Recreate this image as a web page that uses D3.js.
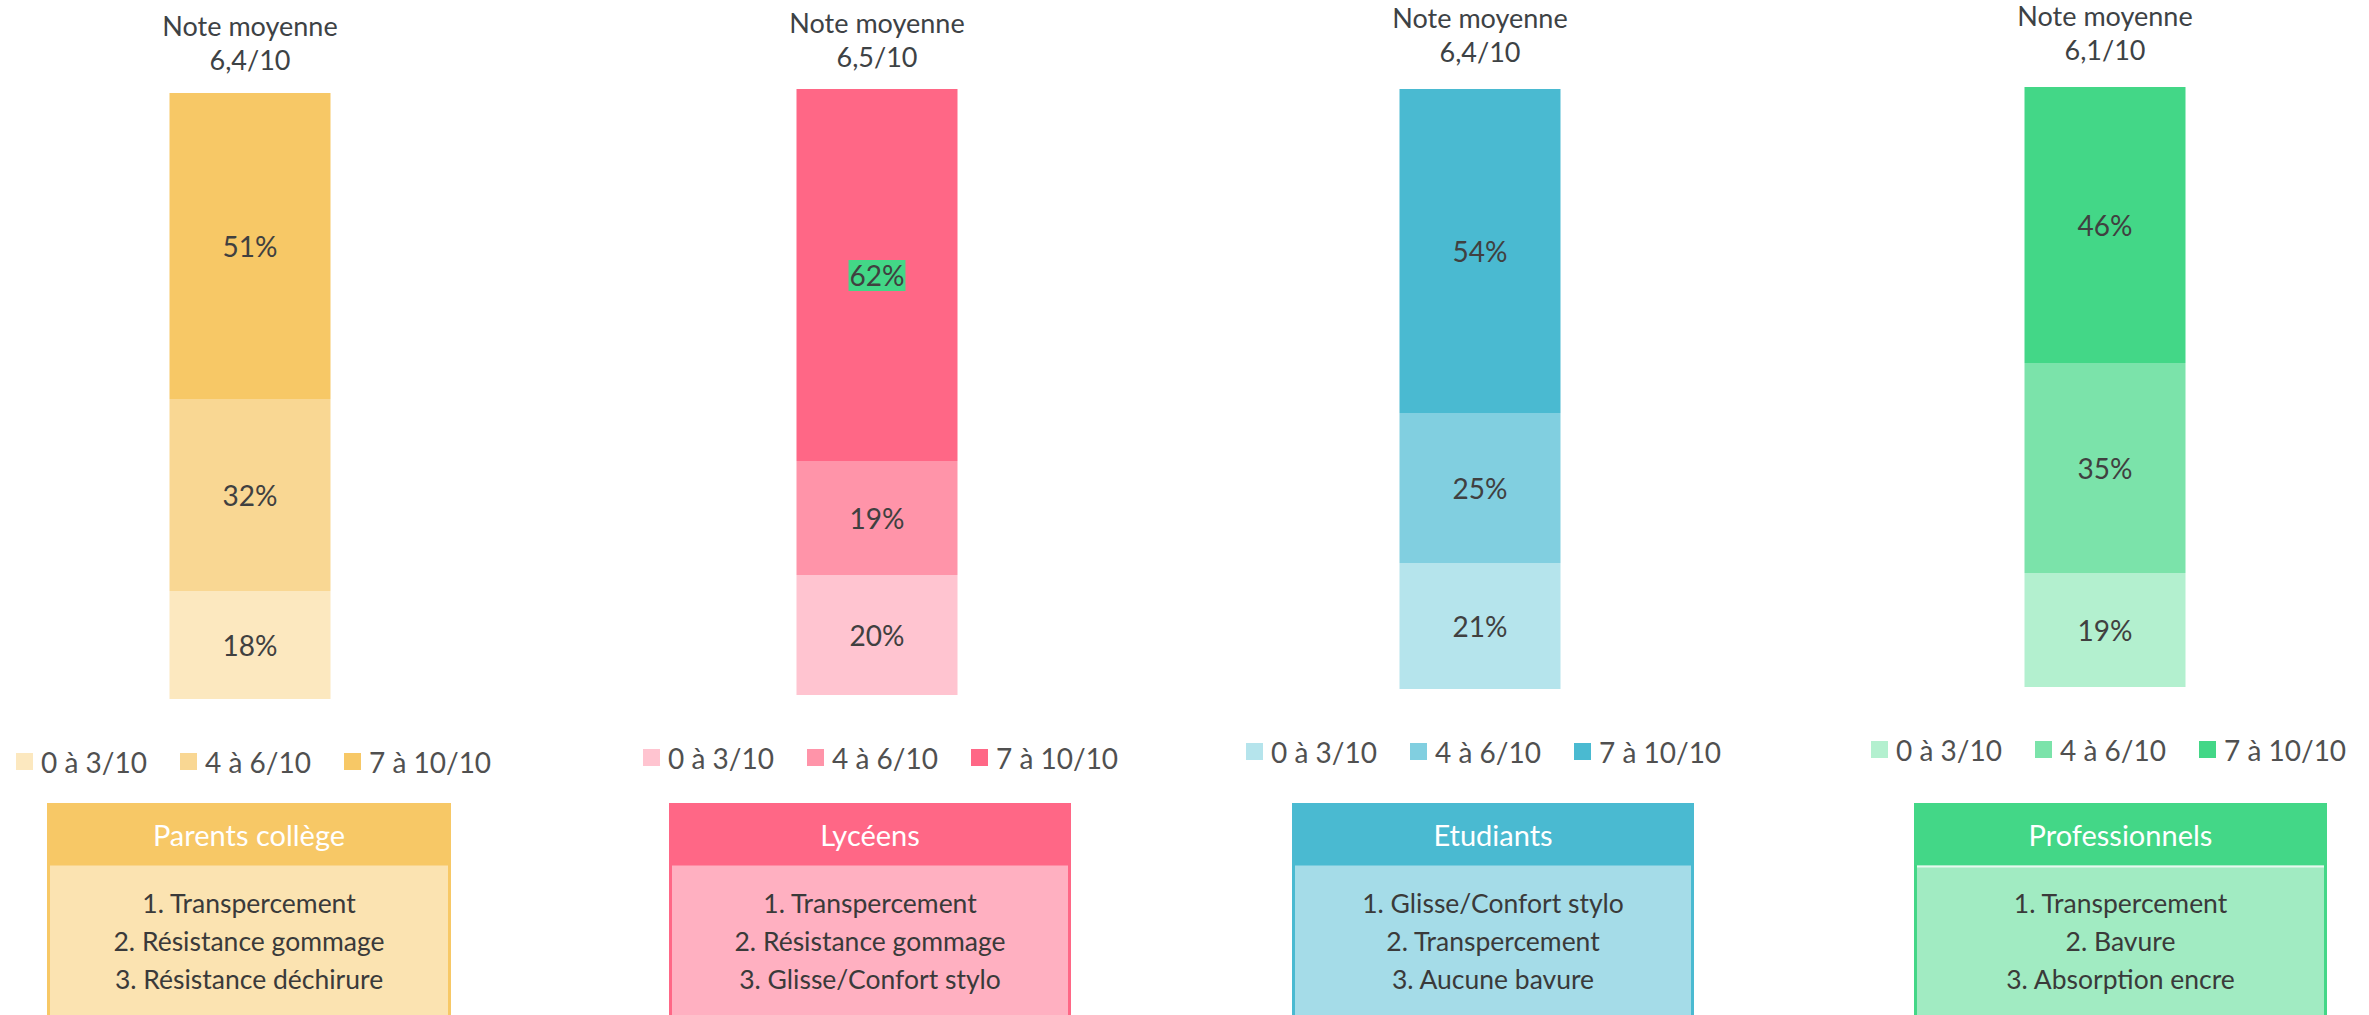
<!DOCTYPE html>
<html>
<head>
<meta charset="utf-8">
<script src="https://cdn.jsdelivr.net/npm/d3@7"></script>
<style>
  body { margin: 0; background: #fff; }
  svg { display: block; font-family: Lato, "Open Sans", sans-serif; }
</style>
</head>
<body>
<svg id="chart" width="2369" height="1015"></svg>
<script>
var groups = ["Parents collège", "Lycéens", "Etudiants", "Professionnels"];
var notes = ["6,4/10", "6,5/10", "6,4/10", "6,1/10"];
var bands = ["0 à 3/10", "4 à 6/10", "7 à 10/10"];
var low = [18, 20, 21, 19];
var mid = [32, 19, 25, 35];
var high = [51, 62, 54, 46];
var criteria = [
  ["1. Transpercement", "2. Résistance gommage", "3. Résistance déchirure"],
  ["1. Transpercement", "2. Résistance gommage", "3. Glisse/Confort stylo"],
  ["1. Glisse/Confort stylo", "2. Transpercement", "3. Aucune bavure"],
  ["1. Transpercement", "2. Bavure", "3. Absorption encre"]
];

// colours: light, mid, dark per group, then box body
var palettes = [
  ["#FCE8BF", "#F9D793", "#F7C866"],
  ["#FFC4D0", "#FF94A9", "#FF6786"],
  ["#B5E4EC", "#81CFE0", "#4ABAD1"],
  ["#B3F0CF", "#7BE3AA", "#43D787"]
];
var bodyFill = ["#FBE3B1", "#FFB0C1", "#A5DCE8", "#A1EBC2"];

// layout
var centers = [250, 877, 1480, 2105];
var lift = [0, 4, 10, 12];
var boxEdges = [[47, 451], [669, 1071], [1292, 1694], [1914, 2327]];
var base = 699, barW = 161;
var textCol = "#404040";

var svg = d3.select("#chart");
var x = d3.scaleOrdinal().domain(groups).range(centers);
var h = d3.scaleLinear().domain([0, 100]).range([0, 600]);

groups.forEach(function(g, i) {
  var cx = x(g);
  var y0 = base - lift[i];
  var pal = palettes[i];
  var vals = [low[i], mid[i], high[i]];
  var gp = svg.append("g");

  // title
  var t = gp.append("text")
    .attr("x", cx).attr("text-anchor", "middle")
    .attr("fill", "#3D4245").style("font-size", "27px");
  t.append("tspan").attr("x", cx).attr("y", 36 - lift[i] * 0.85).text("Note moyenne");
  t.append("tspan").attr("x", cx).attr("y", 70 - lift[i] * 0.85).text(notes[i]);

  // stacked segments
  var acc = 0;
  var segs = vals.map(function(v, k) {
    var s = { v: v, k: k, b: acc };
    acc += v;
    return s;
  });
  gp.selectAll("rect.seg").data(segs).enter().append("rect")
    .attr("class", "seg")
    .attr("x", cx - barW / 2)
    .attr("width", barW)
    .attr("y", d => y0 - h(d.b + d.v))
    .attr("height", d => h(d.v))
    .attr("fill", d => pal[d.k]);

  segs.forEach(function(d) {
    var ly = y0 - h(d.b + d.v / 2);
    var lab = gp.append("text")
      .attr("x", cx).attr("y", ly)
      .attr("text-anchor", "middle").attr("dominant-baseline", "central")
      .attr("fill", textCol).style("font-size", "28px")
      .text(d.v + "%");
    if (i == 1 && d.k == 2) {
      var bb = lab.node().getBBox();
      gp.insert("rect", "text:last-child")
        .attr("x", bb.x - 1).attr("y", bb.y + 2)
        .attr("width", bb.width + 2).attr("height", bb.height - 3)
        .attr("fill", "#43D787");
    }
  });

  // legend
  var ly = 762 - lift[i];
  bands.forEach(function(b, k) {
    var lx = cx - 234 + k * 164;
    gp.append("rect").attr("x", lx).attr("y", ly - 9).attr("width", 17).attr("height", 17)
      .attr("fill", pal[k]);
    gp.append("text").attr("x", lx + 25).attr("y", ly)
      .attr("dominant-baseline", "central")
      .attr("fill", "#505050").style("font-size", "28px").text(b);
  });

  // box
  var bx0 = boxEdges[i][0], bx1 = boxEdges[i][1];
  var bc = (bx0 + bx1) / 2;
  gp.append("rect").attr("x", bx0 + 1.5).attr("y", 864).attr("width", bx1 - bx0 - 3).attr("height", 200)
    .attr("fill", bodyFill[i]).attr("stroke", pal[2]).attr("stroke-width", 3);
  gp.append("rect").attr("x", bx0).attr("y", 803).attr("width", bx1 - bx0).attr("height", 62)
    .attr("fill", pal[2]);
  if (i == 3)
    gp.append("line").attr("x1", bx0 + 3).attr("x2", bx1 - 3).attr("y1", 866.5).attr("y2", 866.5)
      .attr("stroke", "#E6F9EE").attr("stroke-width", 2);
  gp.append("text").attr("x", bc).attr("y", 834)
    .attr("text-anchor", "middle").attr("dominant-baseline", "central")
    .attr("fill", "#fff").style("font-size", "29px").text(g);
  criteria[i].forEach(function(c, k) {
    gp.append("text").attr("x", bc).attr("y", 903 + k * 38)
      .attr("text-anchor", "middle").attr("dominant-baseline", "central")
      .attr("fill", "#3A3A3A").style("font-size", "26.5px").text(c);
  });
});
</script>
</body>
</html>
